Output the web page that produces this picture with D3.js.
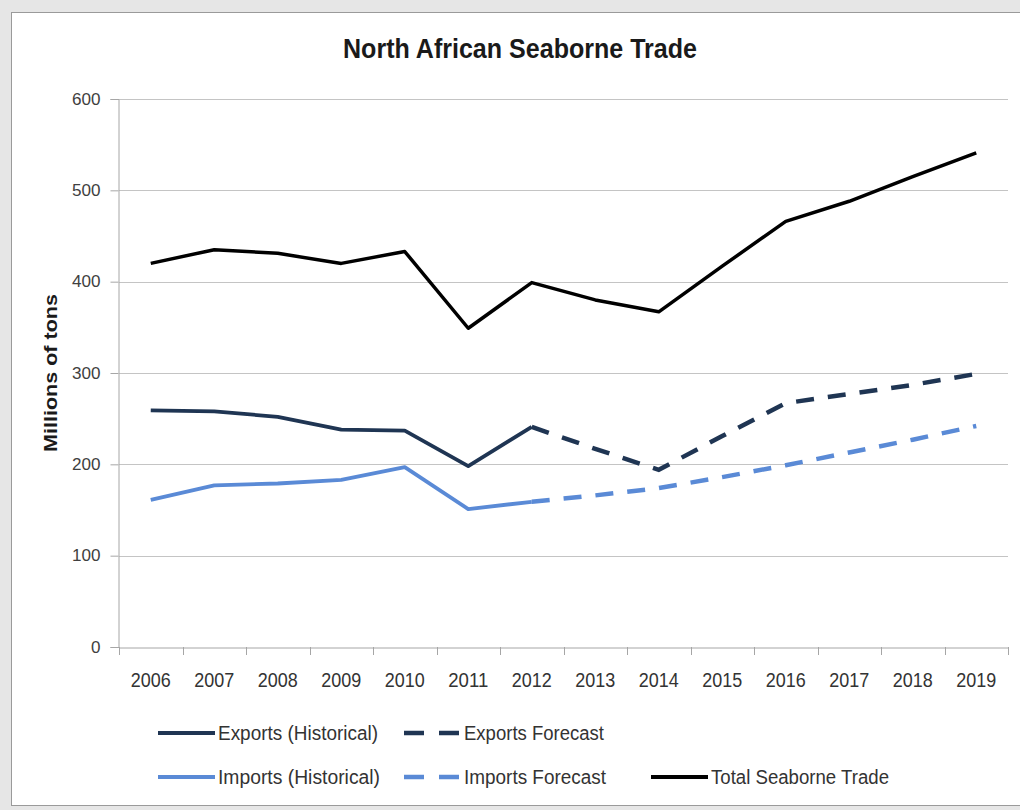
<!DOCTYPE html>
<html>
<head>
<meta charset="utf-8">
<script src="https://cdn.jsdelivr.net/npm/d3@7"></script>
<style>
  html, body { margin: 0; padding: 0; background: #e6e6e6; }
  svg { display: block; }
</style>
</head>
<body>
<svg id="chart" width="1020" height="810"></svg>
<script>
const years = ["2006","2007","2008","2009","2010","2011","2012","2013","2014","2015","2016","2017","2018","2019"];
const histYears = ["2006","2007","2008","2009","2010","2011","2012"];
const foreYears = ["2012","2013","2014","2015","2016","2017","2018","2019"];
const exportsHist = [259, 258, 252, 238, 237, 198, 241];
const exportsForecast = [241, 217, 194, 231, 267, 277, 287, 299];
const importsHist = [161, 177, 179, 183, 197, 151, 159];
const importsForecast = [159, 166, 174, 186, 199, 213, 227, 242];
const totalTrade = [420, 435, 431, 420, 433, 349, 399, 380, 367, 417, 466, 488, 515, 541];
const yTicks = [0, 100, 200, 300, 400, 500, 600];

const svg = d3.select("#chart");
const font = "'Liberation Sans', Arial, sans-serif";

// frame
svg.append("rect").attr("x", 11.5).attr("y", 12.5).attr("width", 1012).attr("height", 793)
  .attr("fill", "#ffffff").attr("stroke", "#9a9a9a").attr("stroke-width", 1);

const x = d3.scaleBand().domain(years).range([119, 1008]);
const y = d3.scaleLinear().domain([0, 600]).range([647, 99]);
const cx = d => x(d) + x.bandwidth() / 2;

// gridlines
svg.append("g").selectAll("line").data(yTicks.filter(t => t > 0)).join("line")
  .attr("x1", 119).attr("x2", 1008)
  .attr("y1", d => Math.round(y(d)) + 0.5).attr("y2", d => Math.round(y(d)) + 0.5)
  .attr("stroke", "#c4c4c4").attr("stroke-width", 1.2);

// y axis
const yAxis = svg.append("g").attr("transform", "translate(118.5,0)")
  .call(d3.axisLeft(y).tickValues(yTicks).tickSize(8).tickPadding(10));
yAxis.select(".domain").attr("stroke", "#a6a6a6");
yAxis.selectAll(".tick line").attr("stroke", "#a6a6a6");
yAxis.selectAll("text").attr("font-family", font).attr("font-size", 16).attr("fill", "#404040")
  .attr("textLength", d => String(d).length * 9.5).attr("lengthAdjust", "spacingAndGlyphs");

// x axis
const xAxis = svg.append("g").attr("transform", "translate(0,647.5)")
  .call(d3.axisBottom(x).tickSize(0).tickPadding(25));
xAxis.select(".domain").attr("stroke", "#a6a6a6");
xAxis.selectAll("text").attr("font-family", font).attr("font-size", 20).attr("fill", "#333333")
  .attr("textLength", 40).attr("lengthAdjust", "spacingAndGlyphs");
// boundary tick marks
const bounds = years.map(d => x(d)).concat([x(years[years.length - 1]) + x.bandwidth()]);
svg.append("g").selectAll("line").data(bounds).join("line")
  .attr("x1", d => Math.round(d) + 0.5).attr("x2", d => Math.round(d) + 0.5)
  .attr("y1", 647).attr("y2", 655).attr("stroke", "#a6a6a6");

// title
svg.append("text").attr("x", 520).attr("y", 58).attr("text-anchor", "middle")
  .attr("font-family", font).attr("font-weight", "bold").attr("font-size", 27)
  .attr("textLength", 354).attr("lengthAdjust", "spacingAndGlyphs")
  .attr("fill", "#1a1a1a").text("North African Seaborne Trade");

// y label
svg.append("text").attr("transform", "translate(57,373) rotate(-90)").attr("text-anchor", "middle")
  .attr("font-family", font).attr("font-weight", "bold")
  .attr("font-size", 19).attr("textLength", 158).attr("lengthAdjust", "spacingAndGlyphs")
  .attr("fill", "#1a1a1a").text("Millions of tons");

const line = d3.line().x(d => cx(d.k)).y(d => y(d.v));
const zip = (ks, vs) => ks.map((k, i) => ({k, v: vs[i]}));

const navy = "#1f3553";
const blue = "#5a8ad6";

svg.append("path").datum(zip(years, totalTrade)).attr("d", line)
  .attr("fill", "none").attr("stroke", "#000").attr("stroke-width", 3.5).attr("stroke-linejoin", "round");
svg.append("path").datum(zip(foreYears, exportsForecast)).attr("d", line)
  .attr("fill", "none").attr("stroke", navy).attr("stroke-width", 4.5).attr("stroke-dasharray", "18,14");
svg.append("path").datum(zip(foreYears, importsForecast)).attr("d", line)
  .attr("fill", "none").attr("stroke", blue).attr("stroke-width", 4.5).attr("stroke-dasharray", "18,14");
svg.append("path").datum(zip(histYears, exportsHist)).attr("d", line)
  .attr("fill", "none").attr("stroke", navy).attr("stroke-width", 3.8).attr("stroke-linejoin", "round");
svg.append("path").datum(zip(histYears, importsHist)).attr("d", line)
  .attr("fill", "none").attr("stroke", blue).attr("stroke-width", 3.8).attr("stroke-linejoin", "round");

// legend
const legendItems = [
  {label: "Exports (Historical)", color: navy, dash: null, x: 158, y: 733, w: 160},
  {label: "Exports Forecast", color: navy, dash: "20,15", x: 404, y: 733, w: 140},
  {label: "Imports (Historical)", color: blue, dash: null, x: 158, y: 777, w: 162},
  {label: "Imports Forecast", color: blue, dash: "20,15", x: 404, y: 777, w: 142},
  {label: "Total Seaborne Trade", color: "#000", dash: null, x: 651, y: 777, w: 178}
];
const lg = svg.append("g").selectAll("g").data(legendItems).join("g");
lg.append("line").attr("x1", d => d.x).attr("x2", d => d.x + 57)
  .attr("y1", d => d.y).attr("y2", d => d.y)
  .attr("stroke", d => d.color).attr("stroke-width", d => d.dash ? 4.5 : 3.8)
  .attr("stroke-dasharray", d => d.dash);
lg.append("text").attr("x", d => d.x + 60).attr("y", d => d.y + 7)
  .attr("font-family", font).attr("font-size", 20)
  .attr("textLength", d => d.w).attr("lengthAdjust", "spacingAndGlyphs")
  .attr("fill", "#333333").text(d => d.label);
</script>
</body>
</html>
